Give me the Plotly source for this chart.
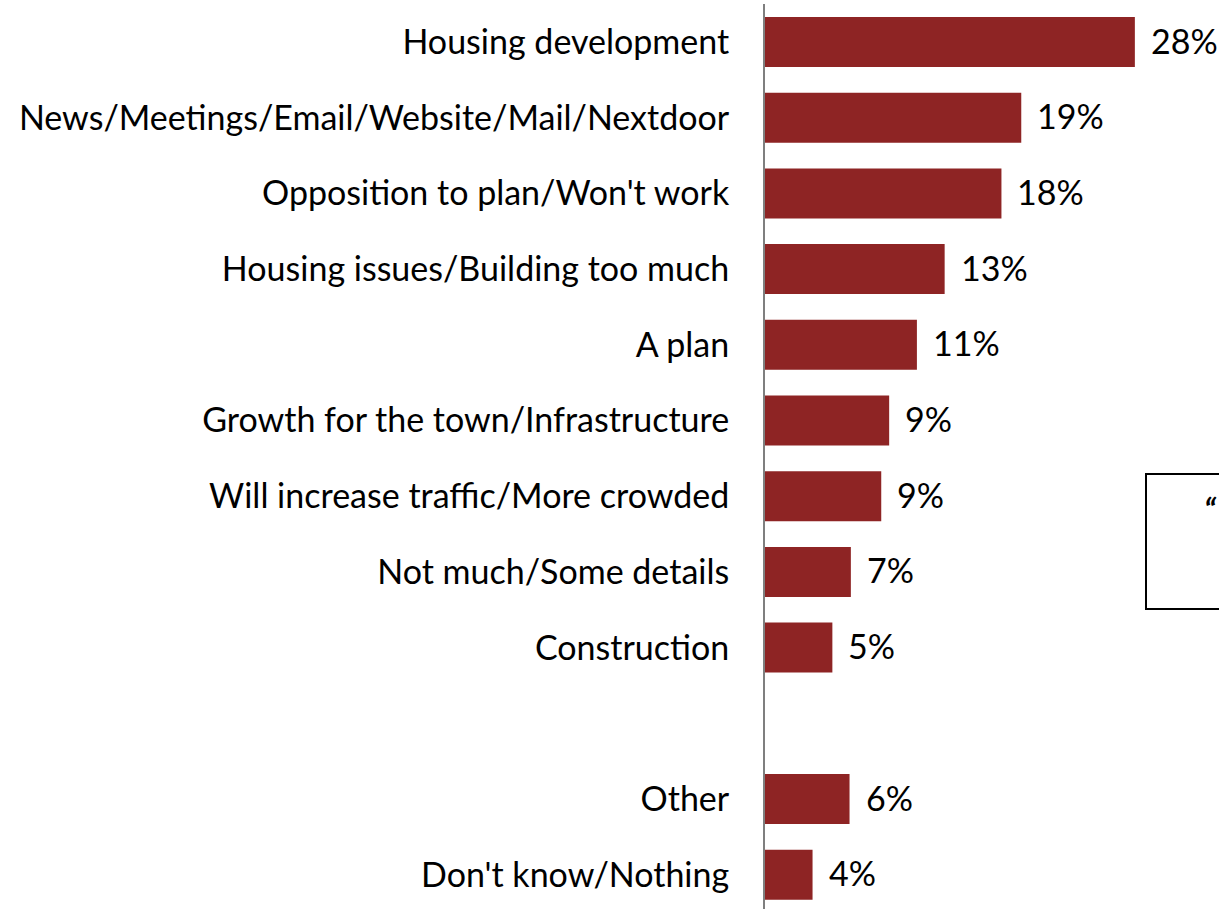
import plotly.graph_objects as go

categories = [
    "Housing development",
    "News/Meetings/Email/Website/Mail/Nextdoor",
    "Opposition to plan/Won't work",
    "Housing issues/Building too much",
    "A plan",
    "Growth for the town/Infrastructure",
    "Will increase traffic/More crowded",
    "Not much/Some details",
    "Construction",
    " ",
    "Other",
    "Don't know/Nothing",
]
values = [28.0, 19.4, 17.9, 13.6, 11.5, 9.4, 8.8, 6.5, 5.1, None, 6.4, 3.6]
labels = ["28%", "19%", "18%", "13%", "11%", "9%", "9%", "7%", "5%", "", "6%", "4%"]

BAR = "#8E2424"
FONT = "Lato"
FS = 34

W, H = 1219, 909
L, T = 765, 4
fig = go.Figure()
fig.add_trace(go.Bar(
    y=categories, x=values, orientation="h",
    marker=dict(color=BAR, line=dict(width=0)),
    width=0.66, hoverinfo="skip",
))

for c, v, t in zip(categories, values, labels):
    if v is None:
        continue
    fig.add_annotation(x=v, y=c, text=t, showarrow=False, xanchor="left",
                       yanchor="middle", xshift=14, yshift=2,
                       font=dict(family=FONT, size=FS, color="black"))

# cropped quote text box at right edge
pw = W - L
ph = H - T
fig.add_shape(type="rect", xref="paper", yref="paper",
              x0=(1146 - L) / pw, x1=(1240 - L) / pw,
              y0=(H - 609) / ph, y1=(H - 474) / ph,
              line=dict(color="black", width=2), fillcolor="rgba(0,0,0,0)")
fig.add_annotation(xref="paper", yref="paper", x=(1219 - L) / pw, y=(H - 488) / ph,
                   text="<b><i>“</i></b>", showarrow=False, xanchor="right",
                   yanchor="top", font=dict(family=FONT, size=32, color="black"))

fig.update_layout(
    width=W, height=H,
    margin=dict(l=L, r=0, t=T, b=0, pad=0),
    paper_bgcolor="white", plot_bgcolor="white",
    showlegend=False,
    xaxis=dict(range=[0, 34.37], visible=False, showgrid=False, zeroline=False, fixedrange=True),
    yaxis=dict(
        type="category", range=[11.453, -0.502], showgrid=False, zeroline=False,
        showline=True, linecolor="#7F7F7F", linewidth=2, ticks="",
        ticklabelstandoff=27, fixedrange=True,
        tickfont=dict(family=FONT, size=FS, color="black"),
    ),
    font=dict(family=FONT),
)

fig.write_html("out.html", config={"displayModeBar": False, "staticPlot": True},
               post_script="document.body.style.margin='0';document.body.style.overflow='hidden';")
